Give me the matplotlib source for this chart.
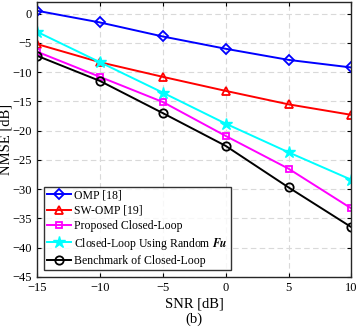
import matplotlib
matplotlib.use('Agg')
import matplotlib.pyplot as plt

plt.rcParams['font.family'] = ['Liberation Serif', 'DejaVu Serif']
plt.rcParams['mathtext.fontset'] = 'stix'

# data
snr = [-15, -10, -5, 0, 5, 10]
omp = [0.5, -1.5, -3.9, -6.0, -7.9, -9.2]
sw_omp = [-5.2, -8.3, -10.8, -13.2, -15.5, -17.3]
proposed = [-6.5, -10.8, -15.1, -20.9, -26.5, -33.3]
random_fu = [-3.1, -8.3, -13.5, -18.8, -23.7, -28.4]
benchmark = [-7.2, -11.5, -17.0, -22.6, -29.7, -36.5]

fig = plt.figure(figsize=(3.6, 3.3), dpi=100)
ax = fig.add_axes([0.103, 0.161, 0.873, 0.833])

ax.plot(snr, omp, color='#0000ff', marker='D', ms=5, mfc='none', mew=1.3, lw=1.4, label='OMP [18]')
ax.plot(snr, sw_omp, color='#ff0000', marker='^', ms=6, mfc='none', mew=1.3, lw=1.4, label='SW-OMP [19]')
ax.plot(snr, proposed, color='#ff00ff', marker='s', ms=5, mfc='none', mew=1.3, lw=1.4, label='Proposed Closed-Loop')
ax.plot(snr, random_fu, color='#00ffff', marker='*', ms=9, mew=1.0, lw=1.4,
        label=r'Closed-Loop Using Random $\mathbfit{Fu}$')
ax.plot(snr, benchmark, color='black', marker='o', ms=6, mfc='none', mew=1.3, lw=1.4, label='Benchmark of Closed-Loop')

ax.set_xlim(-15, 10)
ax.set_ylim(-45, 2)
ax.set_xticks(snr)
ax.set_yticks(range(-45, 1, 5))
ax.tick_params(direction='in', top=True, right=True, labelsize=9, length=3, width=0.8, pad=4)
ax.grid(True, ls=(0, (5, 3)), color='#d9d9d9', lw=0.8)
for s in ax.spines.values():
    s.set_linewidth(1.0)
    s.set_color('#262626')

ax.set_xlabel('SNR [dB]\n(b)', fontsize=10.5, labelpad=2, linespacing=1.2)
ax.set_ylabel('NMSE [dB]', fontsize=10.5)
ax.yaxis.set_label_coords(-0.078, 0.5)

leg = ax.legend(loc='lower left', fontsize=8.5, frameon=True, fancybox=False, edgecolor='black',
                borderpad=0.25, labelspacing=0.28, handlelength=2.0, handletextpad=0.3,
                borderaxespad=0.6)
leg.get_frame().set_linewidth(1.0)

fig.savefig('out.png', dpi=100)
